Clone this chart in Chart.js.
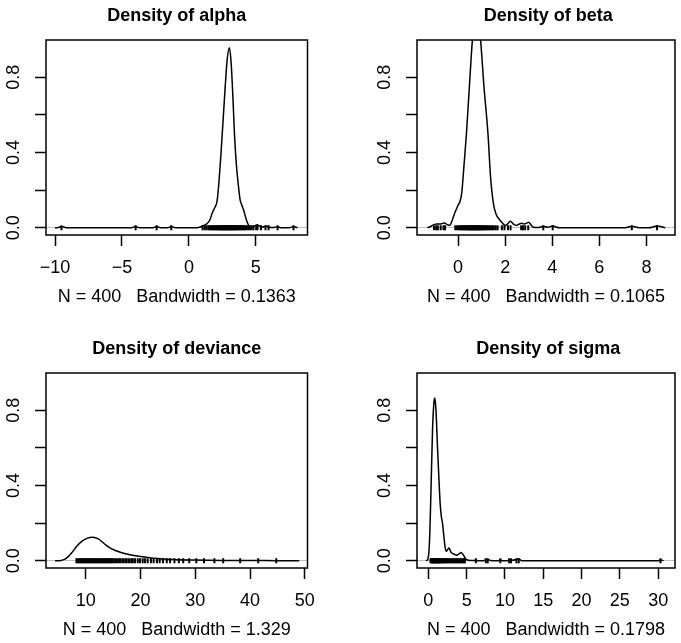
<!DOCTYPE html>
<html>
<head>
<meta charset="utf-8">
<script src="https://cdn.jsdelivr.net/npm/chart.js@4/dist/chart.umd.min.js"></script>
<style>
  body { margin: 0; background: #fff; }
  #wrap { position: relative; width: 681px; height: 643px; background: #fff; }
  canvas { position: absolute; }
</style>
</head>
<body>
<div id="wrap">
  <canvas id="c-alpha" width="371" height="310" style="left:0;top:0"></canvas>
  <canvas id="c-beta" width="310" height="310" style="left:371px;top:0"></canvas>
  <canvas id="c-deviance" width="371" height="310" style="left:0;top:333px"></canvas>
  <canvas id="c-sigma" width="310" height="310" style="left:371px;top:333px"></canvas>
</div>
<script>
// --- dữ liệu (ước lượng) ---
const yTicks = [0, 0.2, 0.4, 0.6, 0.8];
const yLabelValues = [0, 0.4, 0.8];
const yTickLabels = ['0.0', '0.4', '0.8'];
const yRange = [-0.0384, 0.9984];

// alpha
const alphaX = [-10.0, -9.75, -9.5, -9.25, -9.0, -4.3, -4.0, -3.7, -2.7, -2.4, -2.1, -1.6, -1.3, -1.0,
  0.6, 0.85, 1.1, 1.35, 1.55, 1.75, 1.95, 2.1, 2.25, 2.4, 2.55, 2.7, 2.85, 3.02, 3.15, 3.28, 3.4, 3.55,
  3.7, 3.82, 3.95, 4.1, 4.3, 4.5, 4.7, 4.9, 5.1, 5.3, 5.5, 5.75, 5.95, 6.3, 6.6, 6.9, 7.5, 7.8, 8.1];
const alphaY = [0, 0.002, 0.007, 0.002, 0, 0, 0.007, 0, 0, 0.007, 0, 0, 0.007, 0,
  0, 0.004, 0.012, 0.022, 0.04, 0.08, 0.11, 0.14, 0.25, 0.4, 0.57, 0.74, 0.89, 0.957, 0.88, 0.7, 0.5, 0.33,
  0.22, 0.15, 0.12, 0.09, 0.04, 0.01, 0.006, 0.01, 0.016, 0.008, 0.004, 0.01, 0.004, 0.001, 0.006, 0, 0, 0.007, 0];
const alphaRug = [-9.52, -3.98, -2.41, -1.32, 1.02, 1.18, 1.31, 1.45, 1.55, 1.62, 1.7, 1.78, 1.85, 1.92,
  1.99, 2.06, 2.12, 2.18, 2.24, 2.3, 2.36, 2.41, 2.46, 2.51, 2.56, 2.61, 2.66, 2.71, 2.76, 2.81, 2.86,
  2.91, 2.96, 3.01, 3.06, 3.11, 3.16, 3.21, 3.26, 3.31, 3.36, 3.42, 3.48, 3.54, 3.6, 3.67, 3.74, 3.81,
  3.88, 3.96, 4.04, 4.12, 4.2, 4.3, 4.42, 4.55, 4.68, 4.82, 5.02, 5.12, 5.38, 5.72, 5.95, 6.62, 7.81];
const alphaTicks = [-10, -5, 0, 5];
const alphaRange = [-10.674, 8.855];

// beta
const betaX = [-1.3, -1.15, -1.0, -0.85, -0.7, -0.58, -0.45, -0.35, -0.25, -0.12, 0.0, 0.08, 0.16, 0.25,
  0.355, 0.48, 0.61, 0.7, 0.78, 0.87, 0.955, 1.1, 1.27, 1.38, 1.5, 1.62, 1.75, 1.88, 2.0, 2.1, 2.22, 2.35,
  2.48, 2.6, 2.7, 2.8, 2.92, 3.0, 3.1, 3.2, 3.4, 3.62, 3.8, 4.02, 4.3, 7.1, 7.38, 7.7, 8.1, 8.45, 8.8];
const betaY = [0, 0.008, 0.018, 0.02, 0.022, 0.025, 0.016, 0.013, 0.04, 0.085, 0.12, 0.14, 0.19, 0.33,
  0.5, 0.75, 1.0, 1.09, 1.12, 1.09, 1.0, 0.75, 0.5, 0.27, 0.13, 0.07, 0.045, 0.025, 0.012, 0.02, 0.035, 0.02,
  0.012, 0.02, 0.024, 0.02, 0.025, 0.03, 0.015, 0.003, 0.001, 0.008, 0.003, 0.009, 0, 0, 0.008, 0, 0, 0.009, 0];
const betaRug = [-1.02, -0.93, -0.86, -0.74, -0.62, -0.55, -0.12, -0.05, 0.02, 0.08, 0.13, 0.18, 0.22,
  0.26, 0.3, 0.34, 0.38, 0.41, 0.44, 0.47, 0.5, 0.53, 0.56, 0.59, 0.62, 0.65, 0.68, 0.71, 0.74, 0.77,
  0.8, 0.83, 0.86, 0.89, 0.92, 0.95, 0.98, 1.01, 1.05, 1.09, 1.13, 1.17, 1.22, 1.27, 1.33, 1.39, 1.45,
  1.52, 1.6, 1.68, 1.86, 1.97, 2.12, 2.23, 2.68, 2.76, 2.85, 2.98, 3.62, 4.02, 7.38, 8.45];
const betaTicks = [0, 2, 4, 6, 8];
const betaRange = [-1.745, 9.215];

// deviance
const devX = [4.4, 5.5, 6.2, 6.8, 7.4, 8.35, 9.27, 10.2, 11.3, 12.3, 13.5, 14.75, 16.3, 18.1, 20,
  22.4, 26, 30, 35, 40, 45, 49];
const devY = [0, 0.002, 0.009, 0.022, 0.041, 0.077, 0.103, 0.119, 0.125, 0.116, 0.088, 0.063, 0.045,
  0.032, 0.023, 0.014, 0.007, 0.004, 0.002, 0.001, 0.0007, 0];
const devRug = [8.3, 8.5, 8.7, 8.9, 9.1, 9.3, 9.5, 9.7, 9.9, 10.1, 10.3, 10.5, 10.7, 10.9, 11.1, 11.3,
  11.5, 11.7, 11.9, 12.1, 12.3, 12.5, 12.7, 12.9, 13.1, 13.3, 13.5, 13.7, 13.9, 14.1, 14.3, 14.5, 14.7,
  14.9, 15.2, 15.5, 15.8, 16.1, 16.4, 16.8, 17.2, 17.5, 17.9, 18.3, 18.6, 19, 19.5, 19.9, 20.4, 20.8,
  21.3, 21.9, 22.4, 23, 23.5, 24.1, 24.8, 25.4, 26.2, 27, 27.8, 28.9, 30.2, 31.6, 33.5, 35.1, 38.2,
  41.5, 44.8];
const devTicks = [10, 20, 30, 40, 50];
const devRange = [2.74, 50.5];

// sigma
const sigmaX = [-0.3, -0.05, 0.15, 0.35, 0.55, 0.75, 0.85, 1.0, 1.2, 1.4, 1.55, 1.7, 1.85, 2.0, 2.2,
  2.35, 2.5, 2.7, 2.9, 3.1, 3.4, 3.7, 4.0, 4.3, 4.5, 4.7, 4.9, 5.1, 5.5, 6.0, 6.2, 6.5, 7.2, 7.5, 7.75,
  8.1, 9.1, 9.4, 9.7, 10.3, 10.55, 10.8, 11.0, 11.5, 11.8, 12.2, 30.0, 30.3, 30.7];
const sigmaY = [0, 0.01, 0.1, 0.38, 0.7, 0.85, 0.866, 0.8, 0.6, 0.42, 0.3, 0.235, 0.2, 0.14, 0.07,
  0.05, 0.058, 0.068, 0.05, 0.04, 0.035, 0.03, 0.037, 0.044, 0.035, 0.022, 0.01, 0.004, 0.001, 0.001,
  0.005, 0, 0, 0.006, 0.008, 0.001, 0, 0.005, 0, 0, 0.006, 0.006, 0.003, 0.008, 0.01, 0, 0, 0.005, 0];
const sigmaRug = [0.28, 0.38, 0.46, 0.54, 0.62, 0.69, 0.76, 0.83, 0.9, 0.97, 1.04, 1.11, 1.18, 1.26,
  1.34, 1.42, 1.5, 1.6, 1.7, 1.8, 1.92, 2.04, 2.16, 2.3, 2.44, 2.58, 2.72, 2.86, 3.0, 3.15, 3.3, 3.45,
  3.6, 3.75, 3.9, 4.05, 4.2, 4.35, 4.5, 4.65, 4.78, 6.2, 7.5, 7.75, 9.4, 10.55, 10.8, 11.5, 11.8, 30.3];
const sigmaTicks = [0, 5, 10, 15, 20, 25, 30];
const sigmaRange = [-1.48, 32.2];

const FONT = '"Liberation Sans", Arial, Helvetica, sans-serif';
const FS = 18; // cỡ chữ chung
Chart.defaults.font.family = FONT;
Chart.defaults.color = '#000';

// Khung hộp + nhãn trục y xoay dọc kiểu R
const rFrame = {
  id: 'rFrame',
  afterDraw(chart) {
    const { ctx, chartArea: a, scales: { y } } = chart;
    ctx.save();
    ctx.strokeStyle = '#000';
    ctx.lineWidth = 1.5;
    ctx.strokeRect(a.left, a.top, a.right - a.left, a.bottom - a.top);
    ctx.font = FS + 'px ' + FONT;
    ctx.fillStyle = '#000';
    ctx.textAlign = 'center';
    ctx.textBaseline = 'middle';
    yLabelValues.forEach((v, i) => {
      ctx.save();
      ctx.translate(a.left - 32, y.getPixelForValue(v));
      ctx.rotate(-Math.PI / 2);
      ctx.fillText(yTickLabels[i], 0, 0);
      ctx.restore();
    });
    ctx.restore();
  }
};

function fmt(v) {
  return v < 0 ? '\u2212' + Math.abs(v) : String(v);
}

function makePanel(id, title, sub, xs, ys, rug, ticks, range, padRight) {
  const ctx = document.getElementById(id).getContext('2d');
  return new Chart(ctx, {
    type: 'line',
    data: {
      datasets: [
        {
          data: xs.map((x, i) => ({ x, y: ys[i] })),
          borderColor: '#000',
          borderWidth: 1.5,
          pointRadius: 0,
          cubicInterpolationMode: 'monotone',
          fill: false
        },
        {
          // vạch quan sát (rug) trên đường 0
          data: rug.map(v => ({ x: v, y: 0 })),
          showLine: false,
          pointStyle: 'line',
          rotation: 90,
          pointRadius: 2.5,
          borderColor: '#000',
          borderWidth: 2
        }
      ]
    },
    options: {
      responsive: false,
      animation: false,
      events: [],
      // lề trái 46px để tiêu đề căn giữa theo vùng vẽ
      layout: { padding: { left: 46, right: padRight, top: 0, bottom: 0 } },
      plugins: {
        legend: { display: false },
        tooltip: { enabled: false },
        title: {
          display: true,
          text: title,
          color: '#000',
          font: { size: FS, weight: 'bold', family: FONT },
          padding: { top: 5.2, bottom: 13.2 }
        }
      },
      scales: {
        x: {
          type: 'linear',
          min: range[0],
          max: range[1],
          afterBuildTicks: s => { s.ticks = ticks.map(v => ({ value: v })); },
          afterFit: s => { s.height = 75; },
          border: { display: false },
          grid: { drawOnChartArea: false, tickLength: 11, tickWidth: 1.5, tickColor: '#000' },
          ticks: { autoSkip: false, maxRotation: 0, padding: 11.2, color: '#000',
                   font: { size: FS }, callback: v => fmt(v) },
          title: { display: true, text: sub, color: '#000', font: { size: FS },
                   padding: { top: 0, bottom: 2.2 } }
        },
        y: {
          min: yRange[0],
          max: yRange[1],
          afterBuildTicks: s => { s.ticks = yTicks.map(v => ({ value: v })); },
          afterFit: s => { s.width = 0; },
          border: { display: false },
          grid: {
            drawOnChartArea: true,
            tickLength: 11,
            tickWidth: 1.5,
            tickColor: '#000',
            lineWidth: 1,
            color: c => (c.tick && c.tick.value === 0 ? '#bebebe' : 'rgba(0,0,0,0)')
          },
          ticks: { display: false }
        }
      }
    },
    plugins: [rFrame]
  });
}

makePanel('c-alpha', 'Density of alpha', 'N = 400   Bandwidth = 0.1363',
  alphaX, alphaY, alphaRug, alphaTicks, alphaRange, 63.5);
makePanel('c-beta', 'Density of beta', 'N = 400   Bandwidth = 0.1065',
  betaX, betaY, betaRug, betaTicks, betaRange, 1.5);
makePanel('c-deviance', 'Density of deviance', 'N = 400   Bandwidth = 1.329',
  devX, devY, devRug, devTicks, devRange, 63.5);
makePanel('c-sigma', 'Density of sigma', 'N = 400   Bandwidth = 0.1798',
  sigmaX, sigmaY, sigmaRug, sigmaTicks, sigmaRange, 1.5);
</script>
</body>
</html>
